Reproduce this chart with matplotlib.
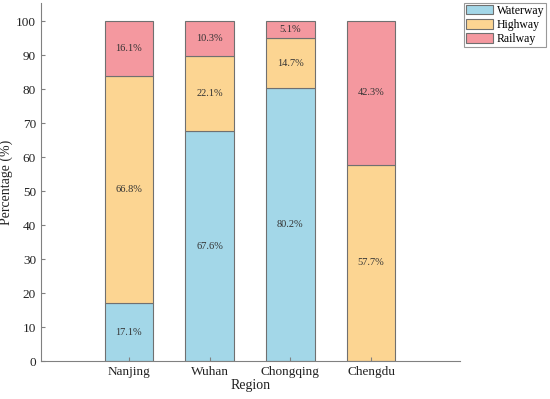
import numpy as np
import matplotlib.pyplot as plt

plt.rcParams['font.family'] = ['Liberation Serif', 'DejaVu Serif']

regions = ['Nanjing', 'Wuhan', 'Chongqing', 'Chengdu']
waterway = [17.1, 67.6, 80.2, 0.0]
highway = [66.8, 22.1, 14.7, 57.7]
railway = [16.1, 10.3, 5.1, 42.3]

couleurs = ['#A3D7E8', '#FCD592', '#F4989F']
noms = ['Waterway', 'Highway', 'Railway']

fig = plt.figure(figsize=(5.5, 3.99), dpi=100)
ax = fig.add_axes([0.0745, 0.095, 0.7615, 0.8975])

x = np.arange(1, len(regions) + 1)
bas = np.zeros(len(regions))
for serie, c, nom in zip([waterway, highway, railway], couleurs, noms):
    serie = np.array(serie)
    ax.bar(x, serie, 0.6, bottom=bas, color=c, edgecolor='#707070', linewidth=0.8, label=nom)
    for xi, b, v in zip(x, bas, serie):
        if v > 0:
            ax.text(xi, b + v / 2, f'{v:.1f}%', ha='center', va='center', fontsize=7.5, color='#333333')
    bas += serie

ax.set_xlim(-0.09, 5.1)
ax.set_ylim(0, 105.3)
ax.set_xticks(x)
ax.set_xticklabels(regions, fontsize=9.5)
ax.set_yticks(np.arange(0, 101, 10))
ax.tick_params(axis='y', labelsize=9.5)
ax.tick_params(direction='in', length=3, color='#808080', labelcolor='#222222')
for s in ['top', 'right']:
    ax.spines[s].set_visible(False)
for s in ['left', 'bottom']:
    ax.spines[s].set_color('#808080')

ax.set_xlabel('Region', fontsize=10, labelpad=1, color='#222222')
ax.set_ylabel('Percentage (%)', fontsize=10, labelpad=2, color='#222222')

leg = fig.legend(loc='upper right', bbox_to_anchor=(0.993, 0.993), fontsize=8.5, frameon=True,
                 fancybox=False, edgecolor='#808080', borderpad=0.15, labelspacing=0.2,
                 handlelength=2.3, handleheight=0.9, handletextpad=0.3, borderaxespad=0)
leg.get_frame().set_linewidth(0.8)

fig.savefig('out.png', dpi=100)
